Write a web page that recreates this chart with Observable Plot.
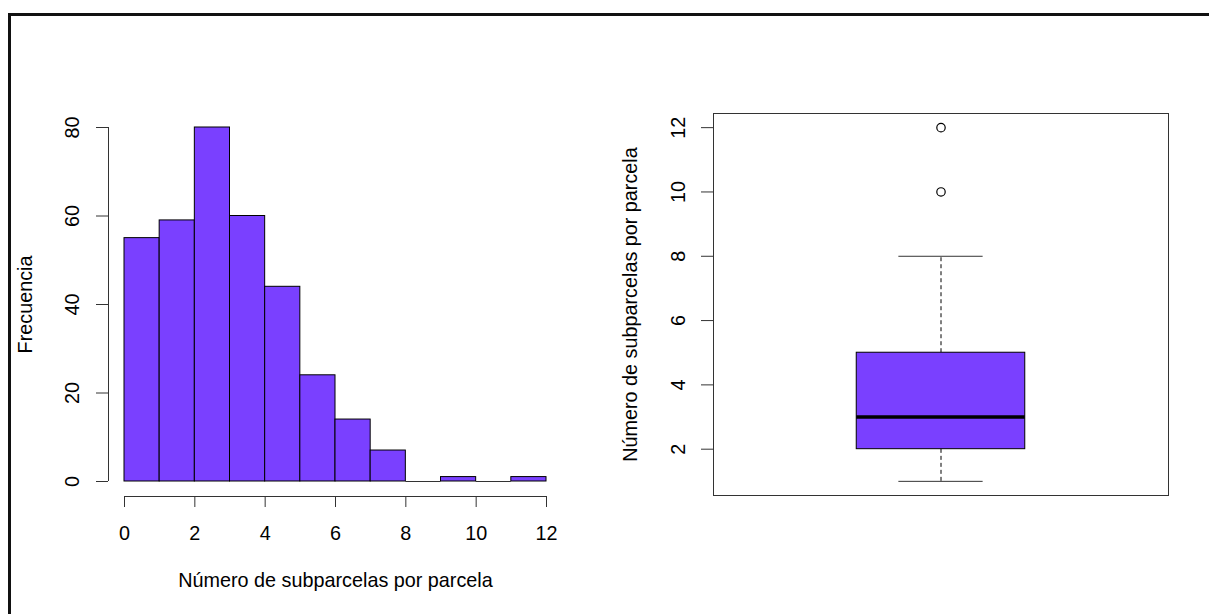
<!DOCTYPE html>
<html><head><meta charset="utf-8">
<script src="https://cdn.jsdelivr.net/npm/d3@7"></script>
<script src="https://cdn.jsdelivr.net/npm/@observablehq/plot@0.6"></script>
<style>
body{margin:0;background:#fff;}
#wrap{position:relative;width:1209px;height:614px;overflow:hidden;font-family:"Liberation Sans",Arial,sans-serif;}
#border{position:absolute;left:8px;top:13px;width:1201px;height:601px;border-top:3px solid #111;border-left:3px solid #111;box-sizing:border-box;}
#p1{position:absolute;left:0;top:0;}
#p2{position:absolute;left:604px;top:0;}
</style></head>
<body><div id="wrap"><div id="border"></div><div id="p1"></div><div id="p2"></div></div>
<script>
// Histogram data
const binStarts = [0, 1, 2, 3, 4, 5, 6, 7, 8, 9, 10, 11];
const binCounts = [55, 59, 80, 60, 44, 24, 14, 7, 0, 1, 0, 1];
const histXTicks = [0, 2, 4, 6, 8, 10, 12];
const histYTicks = [0, 20, 40, 60, 80];
const histXLabel = "Número de subparcelas por parcela";
const histYLabel = "Frecuencia";

// Boxplot data: [lower whisker, Q1, median, Q3, upper whisker]
const boxStats = [1, 2, 3, 5, 8];
const boxOutliers = [10, 12];
const boxYTicks = [2, 4, 6, 8, 10, 12];
const boxYLabel = "Número de subparcelas por parcela";

const purple = "#7a40ff";
const fs = 19.8;
const font = "'Liberation Sans', Arial, sans-serif";
const axisCol = "#333";

const bins = binStarts.map((s, i) => ({x1: s, x2: s + 1, count: binCounts[i]}));

const p1 = Plot.plot({
  width: 604, height: 614,
  marginLeft: 124, marginRight: 58, marginTop: 127, marginBottom: 133,
  x: {domain: [0, 12]},
  y: {domain: [0, 80]},
  style: {fontFamily: font, fontSize: fs + "px", background: "transparent", color: "#000", overflow: "visible"},
  marks: [
    Plot.rectY(bins, {x1: "x1", x2: "x2", y: "count", fill: purple, stroke: "#000", strokeWidth: 1, inset: 0}),
    Plot.ruleY(bins.filter(d => d.count === 0), {y: 0, x1: "x1", x2: "x2", stroke: axisCol}),
    Plot.ruleX([0], {y1: histYTicks[0], y2: histYTicks[histYTicks.length - 1], dx: -16, stroke: axisCol}),
    Plot.axisY({ticks: histYTicks, tickSize: 12, dx: -16, tickFormat: () => "", label: null, stroke: axisCol}),
    Plot.text(histYTicks, {x: 0, y: d => d, text: d => String(d), rotate: -90, dx: -51.5, fontSize: fs, fill: "#000"}),
    Plot.ruleY([0], {x1: histXTicks[0], x2: histXTicks[histXTicks.length - 1], dy: 15, stroke: axisCol}),
    Plot.axisX({ticks: histXTicks, tickSize: 11, dy: 15, tickFormat: () => "", label: null, stroke: axisCol}),
    Plot.text(histXTicks, {x: d => d, y: 0, text: d => String(d), dy: 52, fontSize: fs, fill: "#000"}),
    Plot.text([histYLabel], {frameAnchor: "middle", dx: -310, rotate: -90, text: d => d, fontSize: fs, fill: "#000"}),
    Plot.text([histXLabel], {frameAnchor: "middle", dy: 276, text: d => d, fontSize: fs, fill: "#000"})
  ]
});
document.getElementById("p1").appendChild(p1);

const [wLo, q1, med, q3, wHi] = boxStats;
const p2 = Plot.plot({
  width: 605, height: 614,
  marginLeft: 109, marginRight: 41, marginTop: 113, marginBottom: 119,
  x: {domain: [0.46, 1.54], axis: null},
  y: {domain: [0.56, 12.44]},
  style: {fontFamily: font, fontSize: fs + "px", background: "transparent", color: "#000", overflow: "visible"},
  marks: [
    Plot.ruleX([1], {y1: q3, y2: wHi, stroke: "#000", strokeDasharray: "4,3"}),
    Plot.ruleX([1], {y1: wLo, y2: q1, stroke: "#000", strokeDasharray: "4,3"}),
    Plot.ruleY([wLo, wHi], {x1: 0.9, x2: 1.1, stroke: axisCol}),
    Plot.rect([boxStats], {x1: 0.8, x2: 1.2, y1: d => d[1], y2: d => d[3], fill: purple, stroke: "#000"}),
    Plot.ruleY([med], {x1: 0.8, x2: 1.2, stroke: "#000", strokeWidth: 3.5}),
    Plot.dot(boxOutliers, {x: 1, y: d => d, r: 4.2, stroke: "#000", fill: "none", strokeWidth: 1.2}),
    Plot.frame({stroke: axisCol}),
    Plot.axisY({ticks: boxYTicks, tickSize: 12, tickFormat: () => "", label: null, stroke: axisCol}),
    Plot.text(boxYTicks, {x: 0.46, y: d => d, text: d => String(d), rotate: -90, dx: -34.5, fontSize: fs, fill: "#000"}),
    Plot.text([boxYLabel], {frameAnchor: "middle", dx: -310.5, rotate: -90, text: d => d, fontSize: fs, fill: "#000"})
  ]
});
document.getElementById("p2").appendChild(p2);
</script>
</body></html>
